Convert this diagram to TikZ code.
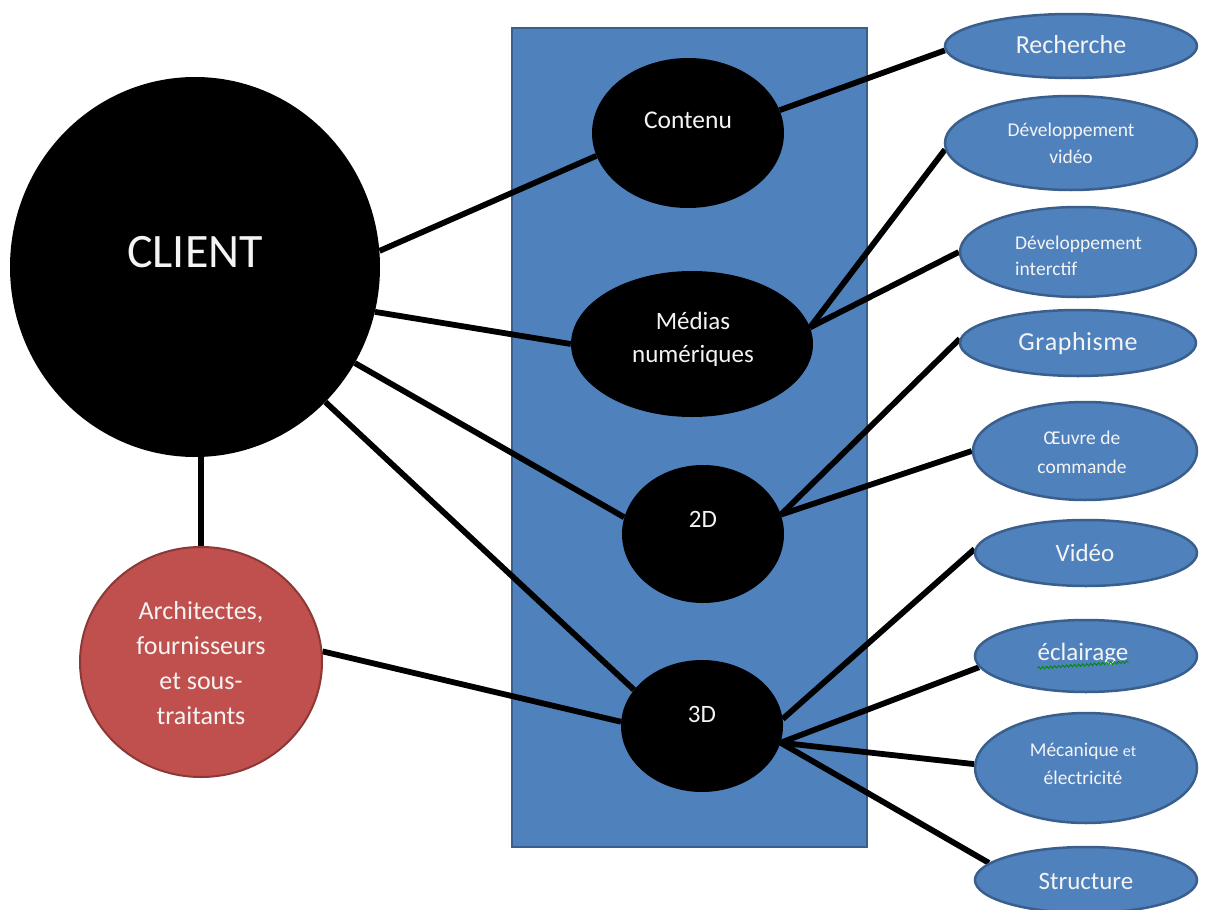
\documentclass[tikz,border=0pt]{standalone}
\usepackage{fontspec}
\setmainfont{Carlito}
\usetikzlibrary{shapes.geometric,decorations.pathmorphing}
\definecolor{boxblue}{HTML}{4F81BD}
\definecolor{boxedge}{HTML}{3A5F8C}
\definecolor{redfill}{HTML}{C0504D}
\definecolor{rededge}{HTML}{8C3836}
\definecolor{txtwhite}{HTML}{F4F4F4}
\pgfdeclarelayer{bg}
\pgfdeclarelayer{mid}
\pgfsetlayers{bg,mid,main}
\tikzset{
  ell/.style n args={2}{ellipse, inner sep=0pt, minimum width=#1pt, minimum height=#2pt},
  blk/.style={fill=black, draw=none},
  blu/.style={fill=boxblue, draw=boxedge, line width=2.5pt},
  lbl/.style={text=txtwhite, inner sep=0pt, align=center},
  conn/.style={line width=5.8pt, black},
  fs/.style n args={2}{font=\fontsize{#1}{#2}\selectfont}
}
\begin{document}
\begin{tikzpicture}[x=1pt,y=-1pt]
\useasboundingbox (0,0) rectangle (1208,910);
\begin{pgfonlayer}{bg}
  \node[draw=boxedge, fill=boxblue, line width=2pt, minimum width=355pt, minimum height=819pt, inner sep=0pt] (panel) at (689.5,437.5) {};
\end{pgfonlayer}

% left
\node[ell={370}{380}, blk] (client) at (195,267) {};
\node[lbl, fs={48}{56}, anchor=base] (clientt) at (195,267) {CLIENT};
\node[ell={242}{230}, fill=redfill, draw=rededge, line width=2pt] (arch) at (201,662) {};
\node[lbl, fs={26}{35}] (archt) at (201,663) {Architectes,\\fournisseurs\\et sous-\\traitants};

% middle
\node[ell={192}{150}, blk] (cont) at (688,133) {};
\node[lbl, fs={25.5}{30}] (contt) at (688,120) {Contenu};
\node[ell={242}{146}, blk] (med) at (692,344) {};
\node[lbl, fs={25}{33}] (medt) at (693,339) {M\'edias\\num\'eriques};
\node[ell={162}{138}, blk] (dd) at (703,534) {};
\node[lbl, fs={25}{30}] (ddt) at (703,519) {2D};
\node[ell={162}{132}, blk] (ddd) at (702,726) {};
\node[lbl, fs={25}{30}] (dddt) at (702,714) {3D};

% right
\node[ell={252}{64}, blu] (rech) at (1071,46) {};
\node[lbl, fs={26}{30}] (recht) at (1071,45) {Recherche};
\node[ell={252}{94}, blu] (dvid) at (1071,143) {};
\node[lbl, fs={19.5}{27}] (dvidt) at (1071,143) {D\'eveloppement\\vid\'eo};
\node[ell={236}{90}, blu] (dint) at (1078,252) {};
\node[lbl, fs={19.5}{26}, align=left, anchor=west] (dintt) at (1015,256) {D\'eveloppement\\interctif};
\node[ell={236}{66}, blu] (graph) at (1078,343) {};
\node[lbl, fs={26}{30}] (grapht) at (1078,344) {G\kern0.5pt r\kern0.5pt a\kern0.5pt p\kern0.5pt h\kern0.5pt i\kern0.5pt s\kern0.5pt m\kern0.5pt e};
\node[ell={224}{98}, blu] (oeuv) at (1085,451) {};
\node[lbl, fs={19.5}{29}] (oeuvt) at (1082,452) {\OE uvre de\\commande};
\node[ell={222}{66}, blu] (vid) at (1086,553) {};
\node[lbl, fs={25}{30}] (vidt) at (1085,553) {Vid\'eo};
\node[ell={222}{72}, blu] (ecl) at (1086,656) {};
\node[lbl, fs={25}{30}] (eclt) at (1083,654) {\'eclairage};
\draw[green!55!black, line width=0.9pt, decorate, decoration={snake, amplitude=1.2pt, segment length=4pt}] (eclt.south west) ++(0,3) coordinate (sq1) -- ([yshift=3pt]eclt.south east);
\node[ell={222}{110}, blu] (meca) at (1086,768) {};
\node[lbl, fs={19.5}{28}] (mecat) at (1083,764) {M\'ecanique {\fontsize{16}{28}\selectfont et}\\\'electricit\'e};
\node[ell={222}{66}, blu] (struc) at (1086,880) {};
\node[lbl, fs={25}{30}] (struct) at (1086,881) {Structure};

% connectors
\begin{pgfonlayer}{mid}
  \draw[conn] (arch.north |- client.south) -- (arch.north);
  \draw[conn] (client.5) -- (cont.-166);
  \draw[conn] (client.-14) -- (med.180);
  \draw[conn] (client.-31) -- (dd.168);
  \draw[conn] (client.-46) -- (ddd.152);
  \draw[conn] (arch.5) -- (ddd.177);
  \draw[conn] (cont.14) -- (rech.182);
  \draw[conn] (med.8) -- (dvid.183);
  \draw[conn] (med.8) -- (dint.180);
  \draw[conn] (dd.14) -- (graph.178);
  \draw[conn] (dd.14) -- (oeuv.180);
  \draw[conn] (ddd.5) -- (vid.178);
  \draw[conn] (ddd.-12) -- (ecl.186);
  \draw[conn] (ddd.-12) -- (meca.178);
  \draw[conn] (ddd.-12) -- (struc.170);
\end{pgfonlayer}
\end{tikzpicture}
\end{document}
